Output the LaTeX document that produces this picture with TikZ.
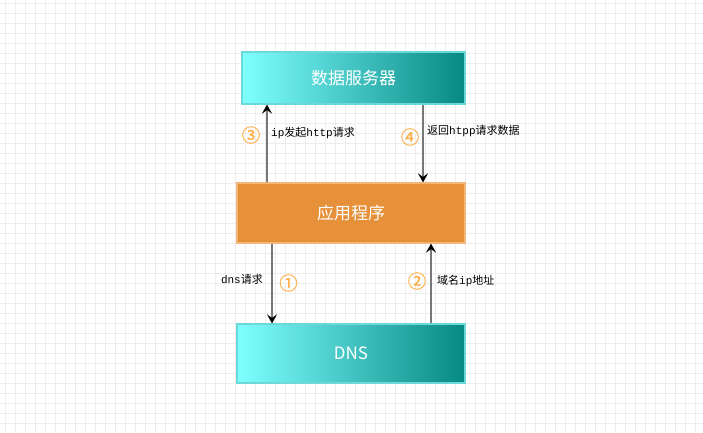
\documentclass[tikz,border=0pt]{standalone}
\usepackage{fontspec}
\usetikzlibrary{arrows.meta}
\newfontfamily\cjk{Noto Sans CJK SC}
\newfontfamily\cjknum[FakeBold=0.6]{Noto Sans CJK SC}
\newfontfamily\monolat{Liberation Mono}
\definecolor{gridc}{HTML}{EDEDED}
\definecolor{cyanL}{HTML}{80FFFF}
\definecolor{tealR}{HTML}{068884}
\definecolor{cyanEdge}{HTML}{6CD8D8}
\definecolor{orangeFill}{HTML}{E6913A}
\definecolor{orangeEdge}{HTML}{F2B57A}
\definecolor{numc}{HTML}{FFAE45}
\definecolor{linec}{HTML}{777777}
\tikzset{
  tealbox/.style={draw=cyanEdge, line width=1.2pt, shading=axis, left color=cyanL,
    right color=tealR, shading angle=90, rectangle, inner sep=0pt,
    text=white, font=\cjk\fontsize{17}{20}\selectfont},
  orangebox/.style={draw=orangeEdge, line width=1.2pt, fill=orangeFill, rectangle,
    inner sep=0pt, text=white, font=\cjk\fontsize{17}{20}\selectfont},
  flow/.style={draw=linec, line width=1.6pt,
    -{Stealth[length=9pt,width=10pt,inset=3.5pt,color=black]}},
  lbl/.style={anchor=west, inner sep=0pt, font=\cjk\fontsize{11}{13}\selectfont},
  num/.style={inner sep=0pt, text=numc, font=\cjknum\fontsize{18.5}{20}\selectfont},
  gridline/.style={draw=gridc, line width=0.9pt}
}
\begin{document}
\begin{tikzpicture}[x=1pt,y=-1pt]
\useasboundingbox (0,0) rectangle (703,432);
\fill[white] (0,0) rectangle (703,432);
% background grid
\foreach \gx in {5,15,...,695} \draw[gridline] (\gx,0) -- (\gx,432);
\foreach \gy in {3,13,...,423} \draw[gridline] (0,\gy) -- (703,\gy);

% boxes
\node[tealbox, minimum width=223pt, minimum height=52pt] (srv) at (353.5,78) {数据服务器};
\node[orangebox, minimum width=228pt, minimum height=60pt] (app) at (351,213) {应用程序};
\node[tealbox, minimum width=228pt, minimum height=59pt] (dns) at (351,353.5) {DNS};

% connector columns
\coordinate (c3) at (267,0);
\coordinate (c4) at (423,0);
\coordinate (c1) at (272,0);
\coordinate (c2) at (431,0);

\draw[flow] (app.north -| c3) -- (srv.south -| c3);
\draw[flow] (srv.south -| c4) -- (app.north -| c4);
\draw[flow] (app.south -| c1) -- (dns.north -| c1);
\draw[flow] (dns.north -| c2) -- (app.south -| c2);

% step numbers
\node[num] (n3) at (251,135) {③};
\node[num] (n4) at (410,137) {④};
\node[num] (n1) at (288.5,283) {①};
\node[num] (n2) at (417,281) {②};

% labels
\node[lbl] (t3) at (271,133) {{\monolat ip}发起{\monolat http}请求};
\node[lbl] (t4) at (427,131) {返回{\monolat htpp}请求数据};
\node[lbl, anchor=east] (t1) at (263,279) {{\monolat dns}请求};
\node[lbl] (t2) at (437,281) {域名{\monolat ip}地址};
\end{tikzpicture}
\end{document}
